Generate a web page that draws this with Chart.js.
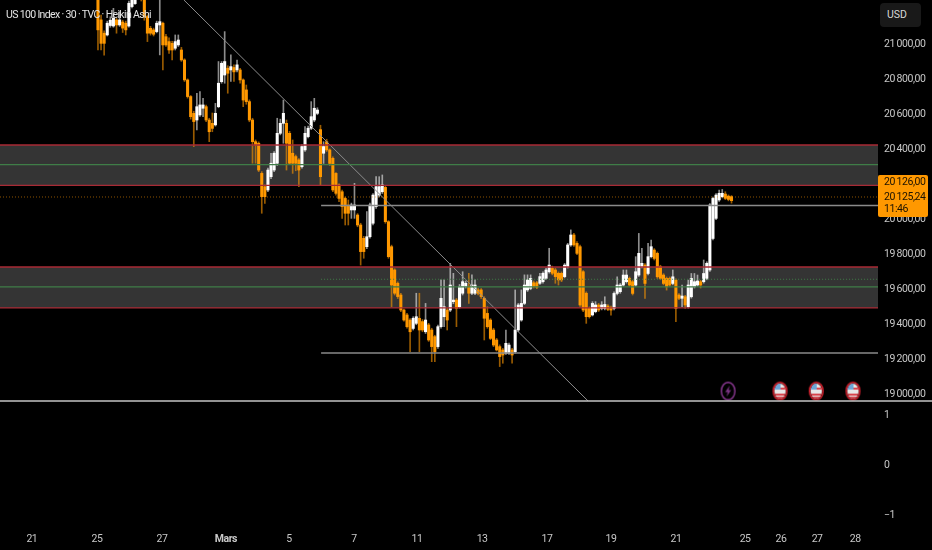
<!DOCTYPE html>
<html>
<head>
<meta charset="utf-8">
<title>US 100 Index</title>
<script src="https://cdn.jsdelivr.net/npm/chart.js@4"></script>
<style>
  html, body { margin: 0; padding: 0; background: #000; width: 932px; height: 550px; overflow: hidden; }
  #wrap { position: relative; width: 932px; height: 550px; }
  canvas { display: block; }
  #title { position: absolute; left: 6px; top: 8px; color: #e4e4e4; font: 10.5px Roboto, sans-serif; letter-spacing: -0.65px; white-space: nowrap; }
  #usd { position: absolute; left: 880px; top: 3px; width: 41px; height: 24px; background: #191919;
         border-radius: 4px; color: #d8d8d8; font: 10.5px/24px Roboto, sans-serif; text-indent: 7px; }
</style>
</head>
<body>
<div id="wrap">
  <canvas id="chart" width="932" height="550"></canvas>
  <div id="title">US 100 Index · 30 · TVC · Heikin Ashi</div>
  <div id="usd">USD</div>
</div>
<script>
// Heikin Ashi bars, one value per bar
const opens = [
  21260,21132,21056,21046,21100,21097,21132,21103,21120,21113,
  21097,21208,21225,21280,21300,21260,21151,21084,21075,21065,
  21103,21113,21036,21008,20998,20970,20989,20960,20903,20789,
  20694,20598,20560,20589,20627,20636,20560,20541,20532,20636,
  20779,20817,20856,20846,20860,20846,20846,20789,20732,20665,
  20560,20436,20427,20255,20179,20160,20236,20274,20313,20484,
  20541,20541,20484,20370,20351,20332,20293,20389,20465,20513,
  20560,20598,20505,20370,20436,20389,20341,20255,20189,20150,
  20112,20074,20046,20046,20017,19960,19884,19836,19893,19970,
  20065,20131,20150,20175,19979,19836,19703,19627,19560,19474,
  19446,19417,19369,19398,19427,19408,19350,19389,19360,19322,
  19265,19379,19436,19474,19474,19522,19531,19493,19570,19608,
  19608,19570,19570,19589,19589,19541,19455,19417,19360,19303,
  19265,19246,19227,19227,19246,19236,19360,19417,19512,19589,
  19598,19630,19630,19627,19636,19655,19693,19712,19703,19684,
  19684,19665,19722,19846,19903,19855,19836,19693,19570,19484,
  19446,19465,19503,19483,19483,19497,19489,19483,19569,19579,
  19617,19636,19655,19636,19617,19674,19722,19731,19683,19779,
  19817,19798,19722,19674,19655,19655,19626,19645,19560,19541,
  19550,19493,19550,19607,19617,19636,19636,19655,19703,19883,
  19998,20103,20122,20137,20125,20122
];
const closes = [
  21075,20998,20998,21113,21130,21141,21103,21132,21085,21075,
  21227,21250,21270,21300,21260,21151,21056,21056,21050,21113,
  21122,20989,20989,20960,20960,21008,21017,20903,20789,20694,
  20579,20551,20636,20646,20646,20560,20493,20512,20598,20770,
  20884,20894,20827,20865,20835,20875,20789,20674,20665,20560,
  20436,20417,20274,20122,20122,20274,20313,20370,20484,20541,
  20598,20427,20313,20313,20313,20274,20408,20484,20513,20579,
  20627,20617,20236,20408,20389,20312,20160,20141,20112,20065,
  20027,20027,20074,20074,19960,19808,19808,19893,20074,20131,
  20179,20179,20189,19979,19779,19617,19570,19551,19474,19417,
  19379,19350,19427,19436,19360,19360,19417,19303,19265,19236,
  19379,19541,19493,19417,19617,19531,19484,19608,19636,19627,
  19570,19617,19617,19570,19551,19427,19379,19312,19274,19246,
  19208,19217,19284,19274,19217,19360,19503,19512,19617,19646,
  19655,19608,19604,19665,19684,19703,19731,19684,19665,19646,
  19646,19731,19846,19903,19846,19798,19503,19474,19436,19436,
  19512,19503,19474,19503,19506,19478,19474,19569,19617,19617,
  19674,19674,19617,19569,19693,19798,19741,19626,19779,19836,
  19769,19664,19655,19626,19607,19617,19664,19483,19541,19554,
  19503,19617,19655,19636,19640,19617,19683,19741,20074,20112,
  20131,20141,20141,20112,20106,20099
];
const highs = [
  21290,21160,21070,21125,21150,21198,21140,21180,21130,21125,
  21240,21290,21300,21320,21310,21280,21160,21095,21085,21125,
  21260,21120,21050,21030,21010,21046,21046,20975,20910,20795,
  20700,20610,20713,20722,20684,20645,20570,20600,20655,20894,
  20894,21065,20870,20932,20875,20903,20855,20795,20760,20675,
  20570,20446,20435,20265,20190,20285,20370,20380,20570,20565,
  20674,20560,20495,20446,20360,20340,20420,20522,20525,20665,
  20684,20630,20530,20436,20450,20395,20350,20260,20195,20160,
  20120,20103,20085,20198,20025,19970,19895,20036,20085,20140,
  20236,20236,20246,20181,19985,19845,19710,19635,19570,19480,
  19455,19425,19436,19570,19570,19420,19512,19398,19370,19330,
  19388,19646,19646,19485,19741,19684,19540,19620,19693,19640,
  19684,19675,19646,19600,19597,19550,19493,19425,19370,19312,
  19275,19255,19360,19285,19255,19589,19512,19589,19675,19675,
  19675,19640,19638,19684,19692,19712,19827,19725,19712,19692,
  19692,19740,19855,19932,19912,19865,19845,19700,19578,19492,
  19522,19522,19512,19522,19550,19505,19497,19578,19664,19626,
  19703,19703,19663,19645,19779,19912,19826,19740,19855,19874,
  19825,19806,19730,19682,19663,19663,19703,19653,19568,19617,
  19558,19645,19683,19683,19674,19644,19760,19750,20082,20120,
  20139,20160,20163,20150,20132,20128
];
const lows = [
  20960,20960,20930,21040,21090,21090,21056,21095,21060,21046,
  21090,21200,21220,21270,21240,21130,21008,21045,21040,21058,
  20932,20846,20980,20941,20903,20960,20980,20895,20780,20685,
  20565,20408,20503,20580,20579,20550,20436,20493,20525,20630,
  20770,20770,20713,20780,20780,20835,20770,20636,20650,20550,
  20313,20313,20265,20027,20084,20150,20225,20265,20300,20475,
  20427,20274,20305,20255,20270,20179,20285,20380,20458,20505,
  20550,20590,20189,20312,20380,20300,20150,20130,20093,19998,
  19960,19960,19998,19998,19950,19731,19770,19825,19885,19960,
  20055,20120,20140,19970,19770,19493,19560,19540,19465,19410,
  19370,19236,19360,19390,19236,19350,19340,19295,19179,19179,
  19255,19370,19379,19360,19465,19510,19379,19485,19560,19600,
  19512,19562,19562,19560,19540,19303,19370,19305,19265,19240,
  19151,19170,19220,19220,19170,19228,19350,19410,19505,19580,
  19590,19600,19596,19620,19628,19648,19685,19675,19627,19617,
  19636,19658,19714,19838,19838,19790,19495,19465,19398,19428,
  19440,19458,19465,19475,19475,19470,19445,19475,19560,19570,
  19610,19628,19610,19560,19610,19666,19715,19541,19675,19772,
  19760,19655,19647,19618,19588,19610,19618,19407,19533,19493,
  19484,19485,19542,19600,19610,19600,19628,19647,19695,19875,
  19990,20095,20115,20105,20098,20085
];

const priceTicks = [21000, 20800, 20600, 20400, 20200, 20000, 19800, 19600, 19400, 19200, 19000];
const lowerTicks = [1, 0, -1];

// x axis runs in bar slots; the labels sit on day boundaries
const dayLabels = ["21", "25", "27", "Mars", "5", "7", "11", "13", "17", "19", "21", "25", "26", "27", "28"];
const daySlots = [-21.4, -0.3, 20.7, 41.4, 61.8, 82.8, 103.2, 124.3, 145.3, 166, 187, 209.4, 221, 232.7, 245];

// drawings
const zoneTops = [20417, 19720];
const zoneBottoms = [20186, 19486];
const zoneMids = [20305, 19606];
const supportLevels = [20071, 19229];
const trendSlots = [27.8, 158.6];
const trendPrices = [21246, 18954];
const lowerDotted = 19650;
const lastPrice = 20120;
const tagLines = ["20\u2009126,00", "20\u2009125,24", "11:46"];

const eventSlots = [203.9, 220.7, 232.4, 244.3];
const eventKinds = ["bolt", "flag", "flag", "flag"];
const eventPrice = 19011;

const X_MIN = -31.7, X_MAX = 252.4;
const ORANGE = "#ff9800";

function fmtPrice(v) {
  const s = String(v);
  return s.slice(0, -3) + "\u2009" + s.slice(-3) + ",00";
}

function hLine(price, color, from, width, dash) {
  return {
    type: "line", order: 1, yAxisID: "y",
    data: [{ x: from, y: price }, { x: X_MAX, y: price }],
    borderColor: color, borderWidth: width, borderDash: dash || [],
    pointRadius: 0, tension: 0, fill: false
  };
}

function zoneFill(top, bottom) {
  return {
    type: "line", order: 9, yAxisID: "y",
    data: [{ x: X_MIN, y: top }, { x: X_MAX, y: top }],
    borderWidth: 0, pointRadius: 0, tension: 0,
    fill: { target: { value: bottom } },
    backgroundColor: "#343434"
  };
}

function boltIcon() {
  const c = document.createElement("canvas");
  c.width = 17; c.height = 21;
  const g = c.getContext("2d");
  g.strokeStyle = "#8e3a96";
  g.lineWidth = 1.4;
  g.beginPath(); g.ellipse(8.5, 10.5, 6.8, 8.8, 0, 0, Math.PI * 2); g.stroke();
  g.fillStyle = "#7d3585";
  g.beginPath();
  g.moveTo(10, 5); g.lineTo(5.5, 11.5); g.lineTo(8, 11.5); g.lineTo(7, 16);
  g.lineTo(11.5, 9.5); g.lineTo(9, 9.5); g.closePath(); g.fill();
  return c;
}

function flagIcon() {
  const c = document.createElement("canvas");
  c.width = 17; c.height = 21;
  const g = c.getContext("2d");
  g.save();
  g.beginPath(); g.ellipse(8.5, 10.5, 5.6, 7.6, 0, 0, Math.PI * 2); g.clip();
  g.fillStyle = "#e8e8e8"; g.fillRect(0, 0, 17, 21);
  g.fillStyle = "#d9434b";
  g.fillRect(9, 7, 8, 2); g.fillRect(0, 13, 17, 6);
  g.fillStyle = "#6ca6d8"; g.fillRect(0, 0, 9, 9);
  g.fillStyle = "#e8e8e8"; g.fillRect(0, 10, 17, 2); g.fillRect(0, 15, 17, 1);
  g.restore();
  g.strokeStyle = "#dd2330";
  g.lineWidth = 1.5;
  g.beginPath(); g.ellipse(8.5, 10.5, 6.8, 8.8, 0, 0, Math.PI * 2); g.stroke();
  return c;
}

const wickColors = opens.map(function (o, i) {
  return closes[i] >= o ? "rgba(255,255,255,0.55)" : "rgba(255,152,0,0.6)";
});
const bodyColors = opens.map(function (o, i) {
  return closes[i] >= o ? "#ffffff" : ORANGE;
});

// the axis tick text in the picture is set tighter than the plain font
const tightText = {
  id: "tightText",
  beforeDraw: function (chart) { chart.ctx.letterSpacing = "-0.45px"; }
};

// pane separator and last price tag
const paneDecor = {
  id: "paneDecor",
  afterDraw: function (chart) {
    const ctx = chart.ctx;
    const y = chart.scales.y;
    ctx.save();
    ctx.strokeStyle = "#c4c4c4";
    ctx.lineWidth = 1.4;
    ctx.beginPath();
    ctx.moveTo(0, y.bottom);
    ctx.lineTo(chart.width, y.bottom);
    ctx.stroke();

    const mid = y.getPixelForValue(lastPrice);
    const left = chart.chartArea.right;
    ctx.fillStyle = ORANGE;
    ctx.beginPath();
    ctx.roundRect(left, mid - 22, 50, 42, 2);
    ctx.fill();
    ctx.fillStyle = "#1c1200";
    ctx.font = "10.5px Roboto, sans-serif";
    ctx.letterSpacing = "-0.45px";
    ctx.textAlign = "left";
    ctx.textBaseline = "middle";
    ctx.fillText(tagLines[0], left + 6, mid - 15);
    ctx.fillText(tagLines[1], left + 6, mid);
    ctx.fillText(tagLines[2], left + 6, mid + 12);
    ctx.restore();
  }
};

const datasets = [
  zoneFill(zoneTops[0], zoneBottoms[0]),
  zoneFill(zoneTops[1], zoneBottoms[1]),
  {
    type: "bar", order: 4, yAxisID: "y", grouped: false, barThickness: 1,
    data: lows.map(function (l, i) { return { x: i, y: [l, highs[i]] }; }),
    backgroundColor: wickColors
  },
  {
    type: "bar", order: 3, yAxisID: "y", grouped: false, barThickness: 2.4,
    data: opens.map(function (o, i) { return { x: i, y: [Math.min(o, closes[i]), Math.max(o, closes[i])] }; }),
    backgroundColor: bodyColors
  },
  {
    type: "line", order: 2, yAxisID: "y",
    data: trendSlots.map(function (s, i) { return { x: s, y: trendPrices[i] }; }),
    borderColor: "#8c8c8c", borderWidth: 1, pointRadius: 0, tension: 0
  },
  {
    type: "scatter", order: 0, yAxisID: "y",
    data: eventSlots.map(function (s) { return { x: s, y: eventPrice }; }),
    pointStyle: eventKinds.map(function (k) { return k === "bolt" ? boltIcon() : flagIcon(); }),
    pointRadius: 9, pointHoverRadius: 9
  }
];
zoneTops.forEach(function (v) { datasets.push(hLine(v, "#a82a35", X_MIN, 1.3)); });
zoneBottoms.forEach(function (v) { datasets.push(hLine(v, "#a82a35", X_MIN, 1.3)); });
zoneMids.forEach(function (v) { datasets.push(hLine(v, "#3f7d47", X_MIN, 1.3)); });
supportLevels.forEach(function (v) { datasets.push(hLine(v, "#8a8a8a", 72.2, 1.5)); });
datasets.push(hLine(lowerDotted, "#3f7d47", 72.2, 1, [1, 2]));
datasets.push(hLine(lastPrice, "rgba(255,152,0,0.55)", X_MIN, 1, [1, 2]));

// the labels may overhang the panes, no room is kept for them
function noPadding(s) {
  s.paddingLeft = 0; s.paddingRight = 0; s.paddingTop = 0; s.paddingBottom = 0;
}

new Chart(document.getElementById("chart"), {
  type: "bar",
  data: { datasets: datasets },
  plugins: [tightText, paneDecor],
  options: {
    responsive: false,
    animation: false,
    devicePixelRatio: 1,
    layout: { padding: 0, autoPadding: false },
    plugins: { legend: { display: false }, tooltip: { enabled: false } },
    scales: {
      x: {
        type: "linear", min: X_MIN, max: X_MAX, offset: false,
        grid: { display: false, offset: false, drawTicks: false }, border: { display: false },
        afterBuildTicks: function (s) {
          s.ticks = daySlots.map(function (v) { return { value: v }; });
        },
        afterFit: function (s) { s.height = 23; noPadding(s); },
        ticks: {
          color: "#c8c8c8", padding: 6, maxRotation: 0, autoSkip: false,
          font: function (c) {
            const isMonth = dayLabels[c.index] === "Mars";
            return { family: "Roboto", size: 10.5, weight: isMonth ? "bold" : "normal" };
          },
          callback: function (v, i) { return dayLabels[i]; }
        }
      },
      y: {
        position: "right", stack: "panes", stackWeight: 401,
        min: 18954.3, max: 21245.7,
        grid: { display: false, drawTicks: false }, border: { display: false },
        afterBuildTicks: function (s) {
          s.ticks = priceTicks.map(function (v) { return { value: v }; });
        },
        afterFit: function (s) { s.width = 54; noPadding(s); },
        ticks: {
          color: "#c8c8c8", padding: 6, autoSkip: false, labelOffset: 1.5,
          font: { family: "Roboto", size: 10.5 },
          callback: function (v) { return fmtPrice(v); }
        }
      },
      y2: {
        position: "right", stack: "panes", stackWeight: 126,
        min: -1.26, max: 1.26,
        grid: { display: false, drawTicks: false }, border: { display: false },
        afterBuildTicks: function (s) {
          s.ticks = lowerTicks.map(function (v) { return { value: v }; });
        },
        afterFit: function (s) { s.width = 54; noPadding(s); },
        ticks: {
          color: "#c8c8c8", padding: 6, autoSkip: false, labelOffset: 1,
          font: { family: "Roboto", size: 10.5 },
          callback: function (v) { return v < 0 ? "\u2212" + Math.abs(v) : String(v); }
        }
      }
    }
  }
});
</script>
</body>
</html>
